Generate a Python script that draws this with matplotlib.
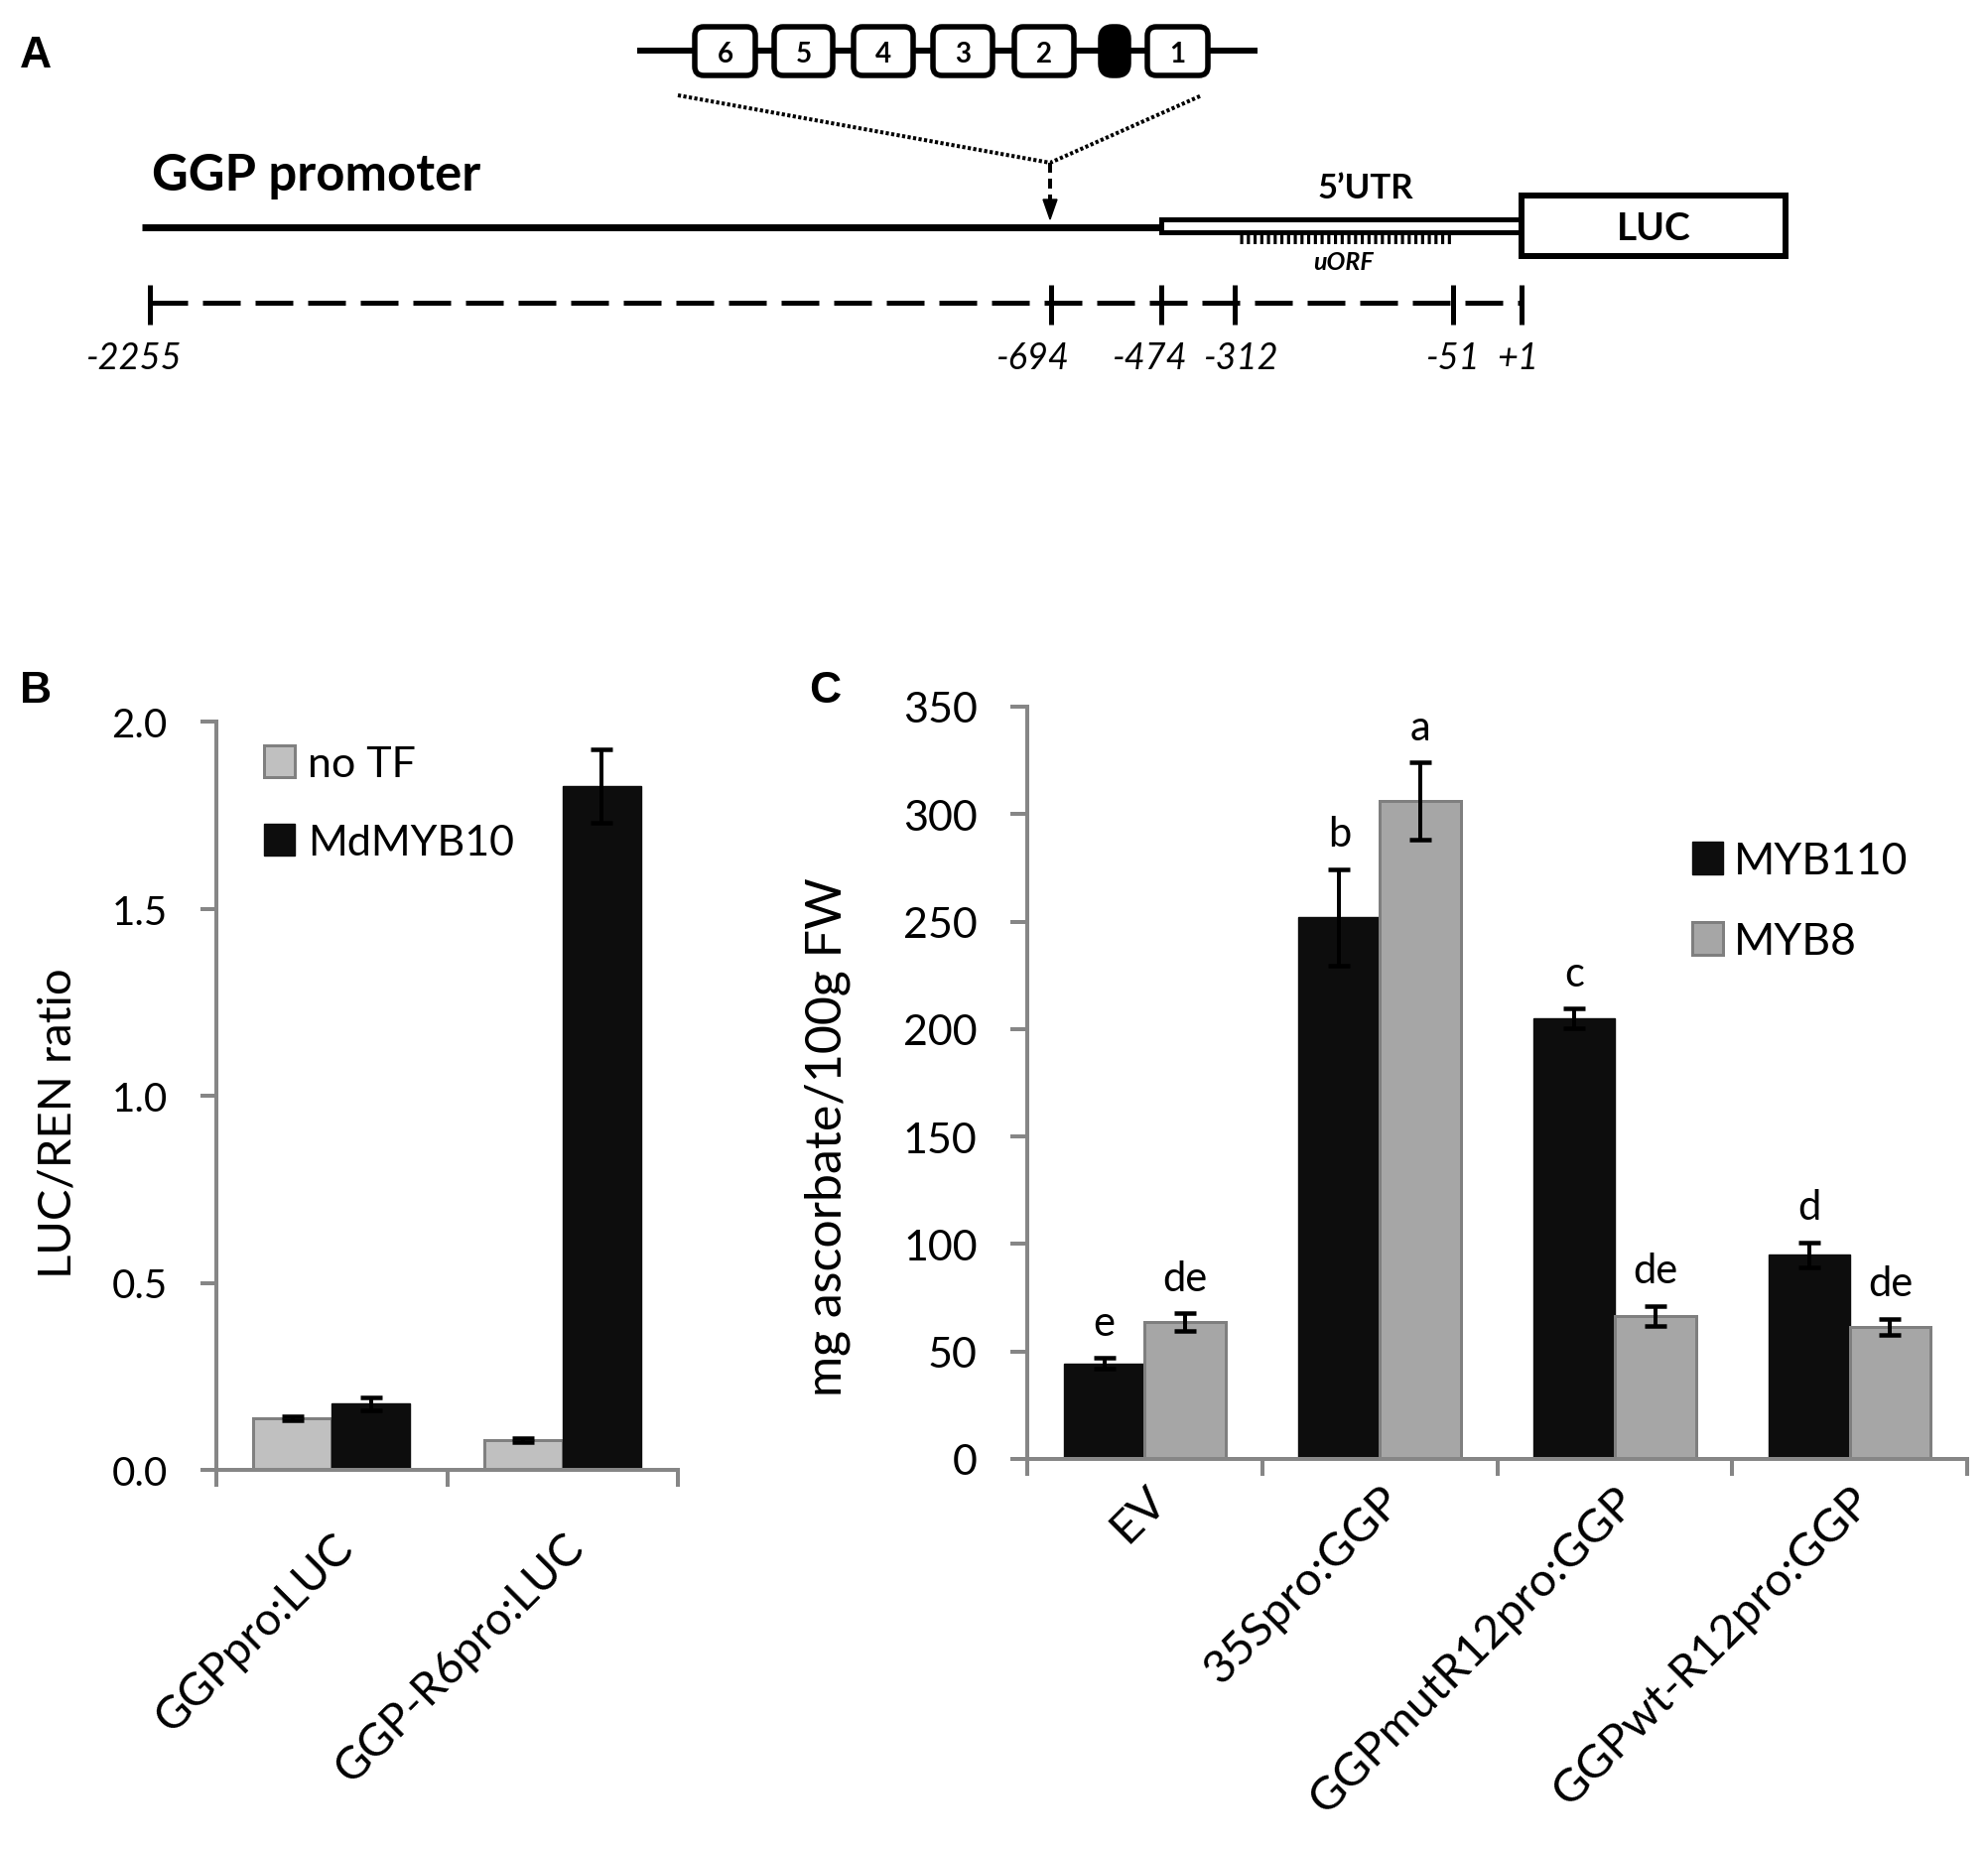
import numpy as np
import matplotlib
matplotlib.use('Agg')
import matplotlib.pyplot as plt
from matplotlib.patches import Rectangle, FancyBboxPatch, Polygon

plt.rcParams['font.family'] = ['Lato', 'DejaVu Sans']

# ---------------- data ----------------
# panel B: LUC/REN ratio
b_groups = ['GGPpro:LUC', 'GGP-R6pro:LUC']
b_series = ['no TF', 'MdMYB10']
b_notf = [0.138, 0.079]
b_notf_err = [0.006, 0.006]
b_myb10 = [0.177, 1.827]
b_myb10_err = [0.017, 0.098]

# panel C: ascorbate
c_groups = ['EV', '35Spro:GGP', 'GGPmutR12pro:GGP', 'GGPwt-R12pro:GGP']
c_series = ['MYB110', 'MYB8']
c_myb110 = [44.5, 252, 205, 95]
c_myb110_err = [2.5, 22.4, 4.5, 5.8]
c_myb8 = [63.6, 306, 66.6, 61.3]
c_myb8_err = [4.2, 18, 4.6, 3.8]
c_myb110_sig = ['e', 'b', 'c', 'd']
c_myb8_sig = ['de', 'a', 'de', 'de']

# panel A: promoter schematic labels
motif_labels = ['6', '5', '4', '3', '2', '', '1']
promoter_ticks = ['-2255', '-694', '-474', '-312', '-51', '+1']

# drawing positions for the schematic (pixels of the figure)
motif_left = [700, 780, 860, 940, 1022, 1109, 1156]
motif_width = [61, 59, 60, 60, 60, 28, 61]
tick_px = [151, 1059, 1170, 1244, 1464, 1533]
label_px = [135, 1041, 1159, 1251, 1464, 1529]

W, H = 2003, 1865
PX = 0.72  # points per pixel at dpi 100

BLACK = '#0d0d0d'
SPINE = '#868686'

fig = plt.figure(figsize=(W / 100, H / 100), dpi=100)

# ---------------- A: schematic ----------------
ax0 = fig.add_axes([0, 0, 1, 1])
ax0.set_xlim(0, W)
ax0.set_ylim(H, 0)
ax0.axis('off')

# motif cluster
ax0.plot([642, 1267], [52, 52], color='black', lw=6 * PX, solid_capstyle='butt')
for lab, left, wd in zip(motif_labels, motif_left, motif_width):
    filled = lab == ''
    box = FancyBboxPatch((left, 28), wd, 49,
                         boxstyle='round,pad=0,rounding_size=%d' % (12 if filled else 9),
                         facecolor='black' if filled else 'white',
                         edgecolor='black', lw=5.5 * PX, zorder=3)
    ax0.add_patch(box)
    if lab:
        ax0.text(left + wd / 2, 63, lab, ha='center', va='baseline',
                 fontsize=20, fontweight='bold', zorder=4)

# dotted insertion lines + dashed arrow
ax0.plot([683, 1058, 1211], [97, 165, 97], color='black', lw=4 * PX,
         linestyle=(0, (0.8, 0.6)))
ax0.plot([1058, 1058], [165, 204], color='black', lw=4 * PX,
         linestyle=(0, (2.5, 1.5)))
ax0.add_patch(Polygon([[1051, 202], [1065, 202], [1058, 222]], closed=True,
                      color='black'))

# promoter line, 5'UTR, LUC
ax0.plot([143, 1170], [229.5, 229.5], color='black', lw=7 * PX,
         solid_capstyle='butt')
ax0.add_patch(Rectangle((1170, 222), 363, 13, facecolor='white',
                        edgecolor='black', lw=5 * PX))
ax0.plot([1249, 1463], [242, 242], color='black', lw=9 * PX,
         linestyle=(0, (0.35, 0.4)), solid_capstyle='butt',
         dash_capstyle='butt')
ax0.add_patch(Rectangle((1533, 198), 266, 61, facecolor='white',
                        edgecolor='black', lw=6 * PX))
ax0.text(153, 192, 'GGP promoter', fontsize=36.5, fontweight='bold',
         ha='left', va='baseline')
ax0.text(1376, 200, '5\u2019UTR', fontsize=25, fontweight='bold',
         ha='center', va='baseline')
ax0.text(1354, 272, 'uORF', fontsize=18, fontweight='bold', style='italic',
         ha='center', va='baseline')
ax0.text(1666, 242, 'LUC', fontsize=28, fontweight='bold',
         ha='center', va='baseline')

# position scale
ax0.plot([151, 1533], [305.5, 305.5], color='black', lw=5 * PX,
         linestyle=(0, (7.6, 3)), dash_capstyle='butt')
for tx, lx, lab in zip(tick_px, label_px, promoter_ticks):
    ax0.plot([tx, tx], [288, 328], color='black', lw=5 * PX,
             solid_capstyle='butt')
    ax0.text(lx, 372, lab, fontsize=26, style='italic',
             ha='center', va='baseline')

# panel letters
for letter, (lx, ly) in zip('ABC', [(20, 68), (20, 708), (815, 708)]):
    ax0.text(lx, ly, letter, fontsize=32, fontweight='bold',
             family='Liberation Sans', ha='left', va='baseline')


def style_axes(ax, tick_fs, ylen):
    for s in ['top', 'right']:
        ax.spines[s].set_visible(False)
    for s in ['left', 'bottom']:
        ax.spines[s].set_color(SPINE)
        ax.spines[s].set_linewidth(4 * PX)
    ax.tick_params(axis='y', direction='out', length=ylen * PX, width=4 * PX,
                   color=SPINE, labelsize=tick_fs, pad=24)
    ax.tick_params(axis='x', which='major', length=0)
    ax.tick_params(axis='x', which='minor', direction='out', length=17 * PX,
                   width=4 * PX, color=SPINE)


err_kw = dict(ecolor='black', elinewidth=4 * PX, capsize=11 * PX,
              capthick=4.5 * PX)

# ---------------- B ----------------
axb = fig.add_axes([218 / W, 1 - 1482 / H, 465 / W, 754 / H])
xb = np.arange(len(b_groups))
wb = 0.34
axb.bar(xb - wb / 2, b_notf, wb, color='#c0c0c0', edgecolor='#808080',
        lw=3 * PX, yerr=b_notf_err, error_kw=err_kw, label=b_series[0])
axb.bar(xb + wb / 2, b_myb10, wb, color=BLACK, edgecolor=BLACK,
        lw=1, yerr=b_myb10_err, error_kw=err_kw, label=b_series[1])
axb.set_xlim(-0.5, len(b_groups) - 0.5)
axb.set_ylim(0, 2.0)
axb.set_yticks(np.arange(0, 2.01, 0.5))
axb.yaxis.set_major_formatter('{x:.1f}')
axb.set_xticks(xb)
axb.set_xticks(np.arange(-0.5, len(b_groups)), minor=True)
axb.set_xticklabels(b_groups, rotation=45, ha='right', va='top',
                    rotation_mode='anchor', fontsize=33)
style_axes(axb, 29, 16)
axb.tick_params(axis='x', which='major', pad=40)
axb.set_ylabel('LUC/REN ratio', fontsize=34, va='center')
axb.yaxis.set_label_coords(-0.342, 0.464)
axb.legend(loc='upper left', bbox_to_anchor=(0.103, 0.968), frameon=False,
           fontsize=31, handlelength=0.72, handleheight=0.77,
           handletextpad=0.3, labelspacing=0.95, borderpad=0,
           borderaxespad=0)

# ---------------- C ----------------
axc = fig.add_axes([1035 / W, 1 - 1471 / H, 947 / W, 758 / H])
xc = np.arange(len(c_groups))
wc = 0.345
axc.bar(xc - wc / 2, c_myb110, wc, color=BLACK, edgecolor=BLACK, lw=1,
        yerr=c_myb110_err, error_kw=err_kw, label=c_series[0])
axc.bar(xc + wc / 2, c_myb8, wc, color='#a6a6a6', edgecolor='#7f7f7f',
        lw=3 * PX, yerr=c_myb8_err, error_kw=err_kw, label=c_series[1])
for xs, vals, errs, sig in [(xc - wc / 2, c_myb110, c_myb110_err, c_myb110_sig),
                            (xc + wc / 2, c_myb8, c_myb8_err, c_myb8_sig)]:
    for xi, v, e, s in zip(xs, vals, errs, sig):
        axc.annotate(s, (xi, v + e), xytext=(0, 17), textcoords='offset points',
                     ha='center', va='baseline', fontsize=30)
axc.set_xlim(-0.5, len(c_groups) - 0.5)
axc.set_ylim(0, 350)
axc.set_yticks(np.arange(0, 351, 50))
axc.set_xticks(xc)
axc.set_xticks(np.arange(-0.5, len(c_groups)), minor=True)
axc.set_xticklabels(c_groups, rotation=45, ha='right', va='top',
                    rotation_mode='anchor', fontsize=34)
style_axes(axc, 31, 17)
axc.tick_params(axis='x', which='major', pad=14)
axc.set_ylabel('mg ascorbate/100g FW', fontsize=36, va='center')
axc.yaxis.set_label_coords(-0.213, 0.429)
axc.legend(loc='upper left', bbox_to_anchor=(0.7075, 0.822), frameon=False,
           fontsize=32, handlelength=0.7, handleheight=0.77,
           handletextpad=0.25, labelspacing=0.9, borderpad=0,
           borderaxespad=0)

fig.savefig('out.png', dpi=100)
